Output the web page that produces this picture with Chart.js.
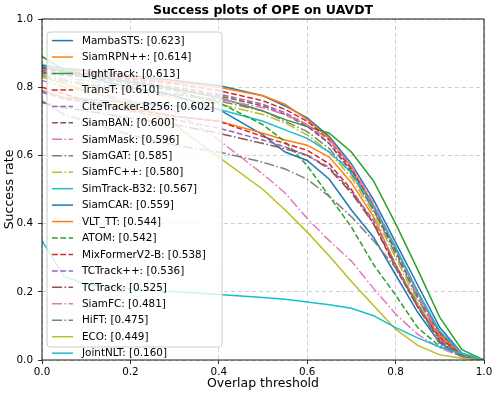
<!DOCTYPE html>
<html lang="en">
<head>
    <meta charset="UTF-8">
    <title>Success plots of OPE on UAVDT</title>
    <style>
        body {
            margin: 0;
            padding: 0;
            background-color: #fff;
        }

        #chartBox {
            width: 498px;
            height: 396px;
        }
    </style>
    <script src="https://cdn.jsdelivr.net/npm/chart.js"></script>
</head>
<body>
    <div id="chartBox">
        <canvas id="successChart" width="498" height="396"></canvas>
    </div>
    <script>
        // overlap thresholds (x axis)
        const THRESHOLDS = [0, 0.05, 0.1, 0.2, 0.3, 0.4, 0.5, 0.55, 0.6, 0.65, 0.7, 0.75, 0.8, 0.85, 0.9, 0.95, 1.0];

        const TRACKERS = ['MambaSTS', 'SiamRPN++', 'LightTrack', 'TransT', 'CiteTracker-B256', 'SiamBAN', 'SiamMask', 'SiamGAT', 'SiamFC++', 'SimTrack-B32',
                          'SiamCAR', 'VLT_TT', 'ATOM', 'MixFormerV2-B', 'TCTrack++', 'TCTrack', 'SiamFC', 'HiFT', 'ECO', 'JointNLT'];
        const AUC = [0.623, 0.614, 0.613, 0.610, 0.602, 0.600, 0.596, 0.585, 0.580, 0.567,
                     0.559, 0.544, 0.542, 0.538, 0.536, 0.525, 0.481, 0.475, 0.449, 0.160];

        // success rate per tracker
        const mambaSTS    = [0.865, 0.855, 0.85, 0.835, 0.82, 0.805, 0.775, 0.745, 0.71, 0.655, 0.575, 0.47, 0.345, 0.22, 0.095, 0.02, 0];
        const siamRPNpp   = [0.86, 0.85, 0.845, 0.83, 0.815, 0.80, 0.775, 0.75, 0.705, 0.65, 0.565, 0.455, 0.33, 0.20, 0.08, 0.015, 0];
        const lightTrack  = [0.89, 0.85, 0.835, 0.815, 0.795, 0.77, 0.73, 0.705, 0.685, 0.665, 0.61, 0.525, 0.40, 0.265, 0.125, 0.03, 0];
        const transT      = [0.855, 0.845, 0.84, 0.825, 0.81, 0.79, 0.76, 0.735, 0.70, 0.645, 0.56, 0.45, 0.33, 0.20, 0.08, 0.015, 0];
        const citeTracker = [0.85, 0.84, 0.835, 0.82, 0.80, 0.78, 0.75, 0.725, 0.69, 0.635, 0.55, 0.44, 0.32, 0.19, 0.075, 0.015, 0];
        const siamBAN     = [0.845, 0.835, 0.83, 0.815, 0.795, 0.775, 0.745, 0.72, 0.685, 0.635, 0.555, 0.445, 0.32, 0.185, 0.07, 0.015, 0];
        const siamMask    = [0.835, 0.825, 0.82, 0.80, 0.78, 0.765, 0.74, 0.72, 0.69, 0.645, 0.57, 0.46, 0.33, 0.19, 0.07, 0.015, 0];
        const siamGAT     = [0.83, 0.82, 0.81, 0.795, 0.78, 0.76, 0.73, 0.70, 0.67, 0.62, 0.545, 0.44, 0.31, 0.18, 0.065, 0.012, 0];
        const siamFCpp    = [0.83, 0.815, 0.805, 0.79, 0.77, 0.75, 0.72, 0.695, 0.66, 0.61, 0.535, 0.43, 0.30, 0.17, 0.06, 0.01, 0];
        const simTrack    = [0.79, 0.77, 0.765, 0.755, 0.745, 0.735, 0.70, 0.675, 0.65, 0.61, 0.55, 0.45, 0.33, 0.20, 0.085, 0.02, 0];
        const siamCAR     = [0.86, 0.845, 0.83, 0.80, 0.775, 0.735, 0.66, 0.61, 0.585, 0.53, 0.44, 0.36, 0.25, 0.14, 0.05, 0.012, 0];
        const vltTT       = [0.79, 0.77, 0.76, 0.74, 0.715, 0.70, 0.665, 0.645, 0.63, 0.595, 0.52, 0.42, 0.28, 0.16, 0.07, 0.015, 0];
        const atom        = [0.84, 0.835, 0.83, 0.81, 0.79, 0.755, 0.69, 0.64, 0.57, 0.48, 0.39, 0.28, 0.19, 0.095, 0.04, 0.01, 0];
        const mixFormer   = [0.80, 0.78, 0.76, 0.735, 0.715, 0.70, 0.655, 0.635, 0.615, 0.575, 0.50, 0.40, 0.27, 0.155, 0.065, 0.015, 0];
        const tcTrackpp   = [0.785, 0.765, 0.755, 0.73, 0.705, 0.68, 0.645, 0.625, 0.60, 0.565, 0.495, 0.41, 0.28, 0.16, 0.06, 0.012, 0];
        const tcTrack     = [0.755, 0.74, 0.73, 0.71, 0.69, 0.665, 0.635, 0.62, 0.60, 0.56, 0.49, 0.40, 0.275, 0.155, 0.055, 0.01, 0];
        const siamFC      = [0.82, 0.80, 0.79, 0.76, 0.73, 0.645, 0.545, 0.49, 0.415, 0.35, 0.29, 0.21, 0.135, 0.075, 0.035, 0.01, 0];
        const hiFT        = [0.76, 0.72, 0.70, 0.66, 0.63, 0.61, 0.58, 0.56, 0.53, 0.48, 0.42, 0.35, 0.27, 0.165, 0.045, 0.01, 0];
        const eco         = [0.83, 0.81, 0.79, 0.75, 0.69, 0.595, 0.50, 0.44, 0.375, 0.305, 0.23, 0.16, 0.09, 0.043, 0.015, 0.005, 0];
        const jointNLT    = [0.35, 0.245, 0.222, 0.208, 0.20, 0.192, 0.183, 0.178, 0.17, 0.162, 0.152, 0.13, 0.095, 0.065, 0.038, 0.018, 0];

        const SERIES = [mambaSTS, siamRPNpp, lightTrack, transT, citeTracker, siamBAN, siamMask, siamGAT, siamFCpp, simTrack,
                        siamCAR, vltTT, atom, mixFormer, tcTrackpp, tcTrack, siamFC, hiFT, eco, jointNLT];

        // matplotlib tab10 + line styles
        const COLORS = ['#1f77b4', '#ff7f0e', '#2ca02c', '#d62728', '#9467bd', '#8c564b', '#e377c2', '#7f7f7f', '#bcbd22', '#17becf'];
        const STYLES = ['-', '-', '-', '--', '--', '--', '-.', '-.', '-.', '-',
                        '-', '-', '--', '--', '--', '-.', '-.', '-.', '-', '-'];
        const DASHES = { '-': [], '--': [5.8, 2.5], '-.': [10, 2.5, 1.6, 2.5] };

        Chart.defaults.font.family = "'DejaVu Sans', sans-serif";
        Chart.defaults.color = '#000';

        const datasets = TRACKERS.map((name, i) => ({
            label: `${name}: [${AUC[i].toFixed(3)}]`,
            data: THRESHOLDS.map((t, k) => ({ x: t, y: SERIES[i][k] })),
            borderColor: COLORS[i % 10],
            backgroundColor: COLORS[i % 10],
            borderDash: DASHES[STYLES[i]],
            borderWidth: 1.5,
            pointRadius: 0,
            tension: 0,
            fill: false,
            order: TRACKERS.length - i  // later series on top, like matplotlib
        }));

        // frame + legend box drawn over the lines
        const frameAndLegend = {
            id: 'frameAndLegend',
            afterDatasetsDraw(chart) {
                const ctx = chart.ctx;
                const area = chart.chartArea;

                ctx.save();
                ctx.strokeStyle = '#000';
                ctx.lineWidth = 0.9;
                ctx.setLineDash([]);
                ctx.strokeRect(area.left, area.top, area.right - area.left, area.bottom - area.top);

                // legend (loc = center left)
                const boxW = 175, boxH = 315, pitch = 16.45;
                const bx = area.left + 5;
                const by = (area.top + area.bottom) / 2 - boxH / 2;
                const r = 3;
                ctx.beginPath();
                ctx.moveTo(bx + r, by);
                ctx.lineTo(bx + boxW - r, by);
                ctx.quadraticCurveTo(bx + boxW, by, bx + boxW, by + r);
                ctx.lineTo(bx + boxW, by + boxH - r);
                ctx.quadraticCurveTo(bx + boxW, by + boxH, bx + boxW - r, by + boxH);
                ctx.lineTo(bx + r, by + boxH);
                ctx.quadraticCurveTo(bx, by + boxH, bx, by + boxH - r);
                ctx.lineTo(bx, by + r);
                ctx.quadraticCurveTo(bx, by, bx + r, by);
                ctx.closePath();
                ctx.fillStyle = 'rgba(255,255,255,0.8)';
                ctx.fill();
                ctx.strokeStyle = '#cccccc';
                ctx.lineWidth = 1;
                ctx.stroke();

                ctx.font = "10.4px 'DejaVu Sans', sans-serif";
                ctx.textBaseline = 'middle';
                ctx.textAlign = 'left';
                chart.data.datasets.forEach((ds, i) => {
                    const y = by + 8.6 + i * pitch;
                    ctx.beginPath();
                    ctx.strokeStyle = ds.borderColor;
                    ctx.lineWidth = ds.borderWidth;
                    ctx.setLineDash(ds.borderDash);
                    ctx.moveTo(bx + 5, y);
                    ctx.lineTo(bx + 26, y);
                    ctx.stroke();
                    ctx.setLineDash([]);
                    ctx.fillStyle = '#000';
                    ctx.fillText(ds.label, bx + 35, y + 0.5);
                });
                ctx.restore();
            }
        };

        const gridStyle = {
            color: 'rgba(176,176,176,0.75)',
            lineWidth: 0.8,
            drawTicks: true,
            tickLength: 4,
            tickColor: '#000',
            tickWidth: 0.8,
            tickBorderDash: []
        };

        const ctx = document.getElementById('successChart').getContext('2d');
        const successChart = new Chart(ctx, {
            type: 'line',
            data: { datasets: datasets },
            options: {
                responsive: false,
                animation: false,
                layout: { padding: { left: 0, right: 14, top: 0, bottom: 0 } },
                plugins: {
                    legend: { display: false },
                    tooltip: { enabled: false },
                    title: {
                        display: true,
                        fullSize: false,
                        text: 'Success plots of OPE on UAVDT',
                        font: { size: 12.5, weight: 'bold' },
                        padding: { top: 3, bottom: 1 }
                    }
                },
                scales: {
                    x: {
                        type: 'linear',
                        min: 0,
                        max: 1,
                        grid: gridStyle,
                        border: { display: false, dash: [4, 3] },
                        ticks: {
                            stepSize: 0.2,
                            padding: 2,
                            font: { size: 10.4 },
                            maxRotation: 0,
                            callback: (v) => v.toFixed(1)
                        },
                        title: {
                            display: true,
                            text: 'Overlap threshold',
                            font: { size: 12.5 },
                            padding: { top: 0, bottom: 5 }
                        },
                        afterFit: (scale) => { scale.height = 36; }
                    },
                    y: {
                        min: 0,
                        max: 1,
                        grid: gridStyle,
                        border: { display: false, dash: [4, 3] },
                        ticks: {
                            stepSize: 0.2,
                            padding: 5,
                            font: { size: 10.4 },
                            callback: (v) => v.toFixed(1)
                        },
                        title: {
                            display: true,
                            text: 'Success rate',
                            font: { size: 12.5 },
                            padding: { top: 2, bottom: 0 }
                        },
                        afterFit: (scale) => { scale.width = 42; }
                    }
                }
            },
            plugins: [frameAndLegend]
        });
    </script>
</body>
</html>
